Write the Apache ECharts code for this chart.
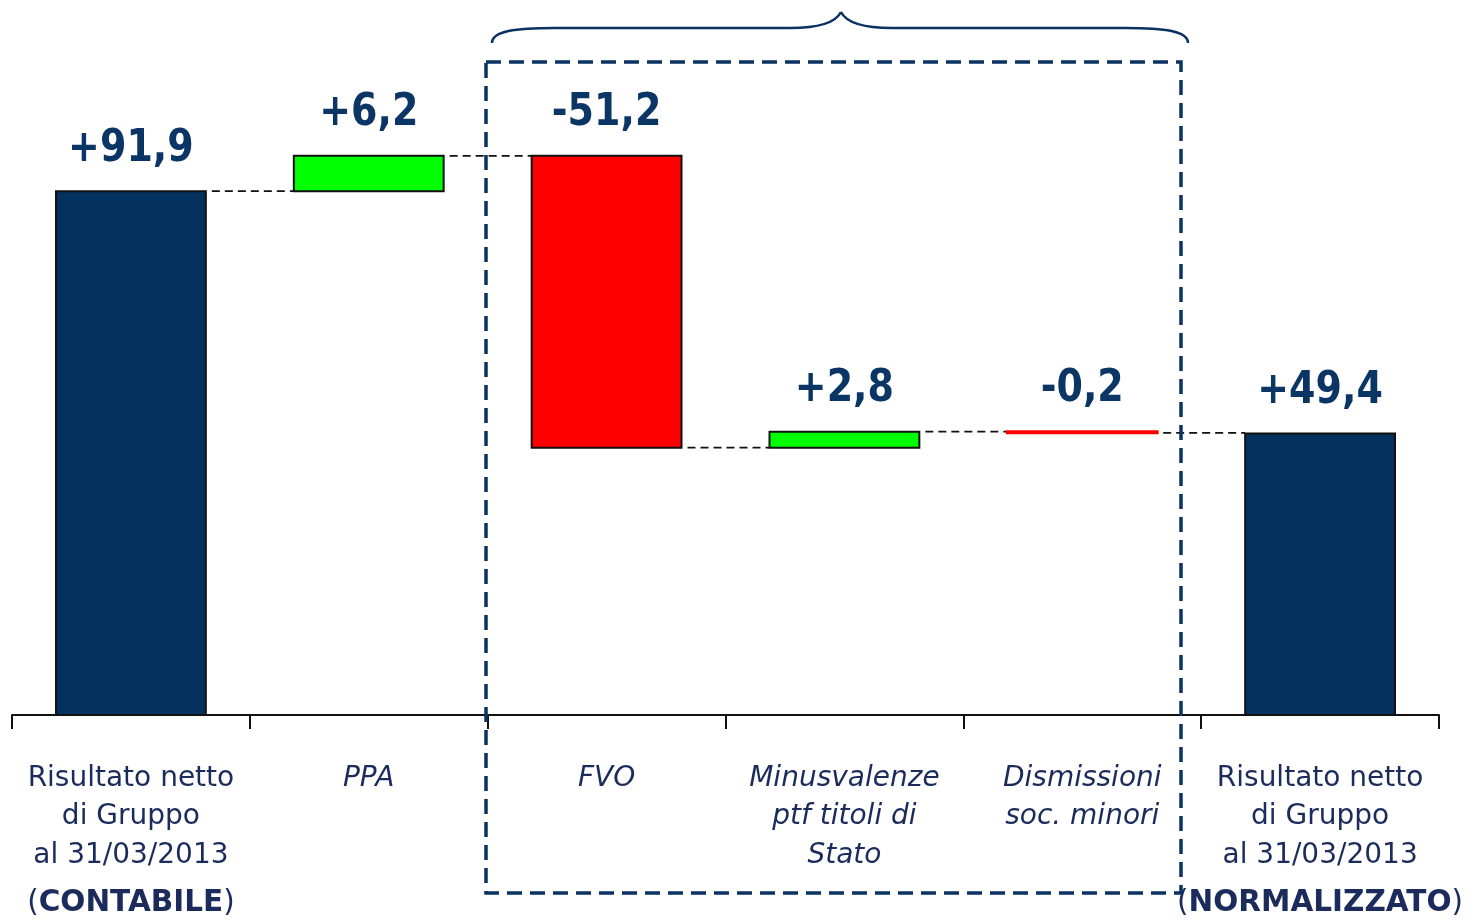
<!DOCTYPE html>
<html>
<head>
<meta charset="utf-8">
<script src="https://cdn.jsdelivr.net/npm/echarts@6/dist/echarts.min.js"></script>
<style>
html,body{margin:0;padding:0;background:#fff;}
#chart{width:1475px;height:920px;}
</style>
</head>
<body>
<div id="chart"></div>
<script>
// ---- data ----
const categories = [
  'Risultato netto\ndi Gruppo\nal 31/03/2013\n(CONTABILE)',
  'PPA',
  'FVO',
  'Minusvalenze\nptf titoli di\nStato',
  'Dismissioni\nsoc. minori',
  'Risultato netto\ndi Gruppo\nal 31/03/2013\n(NORMALIZZATO)'
];
const values = [91.9, 6.2, -51.2, 2.8, -0.2, 49.4];
const kinds = ['total', 'delta', 'delta', 'delta', 'delta', 'total'];
const italicCats = [false, true, true, true, true, false];

// build waterfall ranges from values
const items = [];
let run = 0;
values.forEach((v, i) => {
  let s, e;
  if (kinds[i] === 'total') { s = 0; e = v; run = v; }
  else { s = run; e = run + v; run = e; }
  items.push([i, s, e, v]);
});

const NAVY = '#03325f';
const LABEL_NAVY = '#0b3565';
const CAT_COLOR = '#1b2b5b';
const FONT = '"DejaVu Sans", Verdana, sans-serif';

function fmt(v) {
  return (v > 0 ? '+' : '') + v.toFixed(1).replace('.', ',');
}

const braceStyle = { fill: 'none', stroke: '#0a3363', lineWidth: 2.5 };

const chart = echarts.init(document.getElementById('chart'));
chart.setOption({
  animation: false,
  backgroundColor: '#fff',
  grid: { left: 12, right: 36, top: 31, bottom: 205 },
  xAxis: {
    type: 'category',
    data: categories,
    axisLine: { lineStyle: { color: '#111', width: 2 } },
    axisTick: { show: true, length: 14, lineStyle: { color: '#111', width: 2 } },
    axisLabel: {
      interval: 0,
      margin: 44,
      formatter: function (val, idx) {
        const it = italicCats[idx];
        return val.split('\n').map(line => {
          const m = line.match(/^\((.*)\)$/);
          if (m) return '{p|(}{b|' + m[1] + '}{p|)}';
          return (it ? '{i|' : '{n|') + line + '}';
        }).join('\n');
      },
      rich: {
        n: { fontFamily: FONT, fontSize: 28, color: CAT_COLOR, lineHeight: 38.5 },
        i: { fontFamily: FONT, fontSize: 28, fontStyle: 'italic', color: CAT_COLOR, lineHeight: 38.5 },
        p: { fontFamily: FONT, fontSize: 29.5, color: CAT_COLOR, lineHeight: 58 },
        b: { fontFamily: FONT, fontSize: 29.5, fontWeight: 'bold', color: CAT_COLOR, lineHeight: 58 }
      }
    }
  },
  yAxis: { type: 'value', show: false, min: 0, max: 120, splitLine: { show: false } },
  series: [{
    type: 'custom',
    clip: false,
    data: items,
    encode: { x: 0, y: [1, 2] },
    renderItem: function (params, api) {
      const i = api.value(0), s = api.value(1), e = api.value(2), v = api.value(3);
      const band = api.size([1, 0])[0];
      const bw = band * 0.63;
      const p0 = api.coord([i, s]);
      const p1 = api.coord([i, e]);
      const top = Math.min(p0[1], p1[1]);
      const h = Math.abs(p0[1] - p1[1]);
      const cx = p0[0];
      let fill;
      if (kinds[i] === 'total') fill = NAVY;
      else fill = v >= 0 ? '#00ff00' : '#ff0000';
      const thin = h < 3;
      const children = [];
      if (i < values.length - 1) {
        const pn = api.coord([i + 1, e]);
        children.push({
          type: 'line',
          shape: { x1: cx + bw / 2 + 6, y1: p1[1], x2: pn[0] - bw / 2, y2: p1[1] },
          style: { stroke: '#111', lineWidth: 1.8, lineDash: [8, 5] }
        });
      }
      children.push({
        type: 'rect',
        shape: { x: cx - bw / 2, y: top, width: bw, height: Math.max(h, 0.5) },
        style: thin
          ? { fill: fill, stroke: fill, lineWidth: 3 }
          : { fill: fill, stroke: '#111', lineWidth: 2 }
      });
      children.push({
        type: 'text',
        x: cx, y: top - 42,
        scaleY: 1.15,
        style: {
          x: 0, y: 0,
          text: fmt(v),
          fill: LABEL_NAVY,
          font: 'bold 38px ' + FONT,
          align: 'center',
          verticalAlign: 'middle'
        }
      });
      return { type: 'group', children: children };
    }
  }],
  graphic: [
    {
      type: 'rect',
      z: 100,
      shape: { x: 486, y: 62, width: 695, height: 831 },
      style: { fill: 'none', stroke: '#0a3363', lineWidth: 3.5, lineDash: [15, 8] }
    },
    { type: 'bezierCurve', z: 100, shape: { x1: 492, y1: 43, cpx1: 492, cpy1: 31, cpx2: 515, cpy2: 28, x2: 555, y2: 28 }, style: braceStyle },
    { type: 'line', z: 100, shape: { x1: 555, y1: 28, x2: 790, y2: 28 }, style: braceStyle },
    { type: 'bezierCurve', z: 100, shape: { x1: 790, y1: 28, cpx1: 822, cpy1: 28, cpx2: 836, cpy2: 22, x2: 841, y2: 12 }, style: braceStyle },
    { type: 'bezierCurve', z: 100, shape: { x1: 841, y1: 12, cpx1: 846, cpy1: 22, cpx2: 860, cpy2: 28, x2: 892, y2: 28 }, style: braceStyle },
    { type: 'line', z: 100, shape: { x1: 892, y1: 28, x2: 1125, y2: 28 }, style: braceStyle },
    { type: 'bezierCurve', z: 100, shape: { x1: 1125, y1: 28, cpx1: 1165, cpy1: 28, cpx2: 1188, cpy2: 31, x2: 1188, y2: 43 }, style: braceStyle }
  ]
});
</script>
</body>
</html>
